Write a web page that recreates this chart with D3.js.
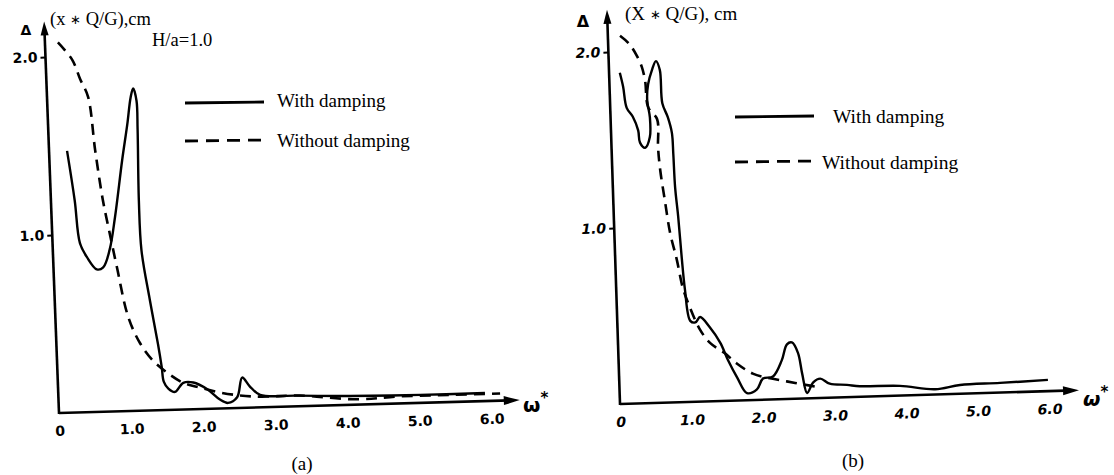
<!DOCTYPE html>
<html>
<head>
<meta charset="utf-8">
<script src="https://cdn.jsdelivr.net/npm/d3@7"></script>
<style>
  body { margin: 0; background: #fff; }
  .serif { font-family: "Liberation Serif", "Times New Roman", serif; }
  .tick text { font-family: "DejaVu Sans", sans-serif; font-weight: bold; fill: #000; }
</style>
</head>
<body>
<svg id="chart" width="1114" height="475"></svg>
<script>
// tick values shared by both panels
const xTicks = [0, 1, 2, 3, 4, 5, 6];
const yTicks = [1, 2];

// panel (a), H/a = 1.0  -- [omega*, delta]
const withDampingA = [
  [0.25, 1.47], [0.33, 1.19], [0.38, 0.95], [0.47, 0.87], [0.60, 0.80], [0.69, 0.81],
  [0.79, 0.91], [0.88, 1.09], [1.01, 1.41], [1.10, 1.61], [1.16, 1.76], [1.20, 1.81],
  [1.24, 1.74], [1.24, 1.58], [1.22, 1.18], [1.23, 0.90], [1.32, 0.62], [1.41, 0.37],
  [1.45, 0.24], [1.47, 0.16], [1.53, 0.12], [1.62, 0.10], [1.74, 0.15], [1.88, 0.15],
  [2.07, 0.11], [2.24, 0.05], [2.35, 0.03], [2.48, 0.06], [2.56, 0.17], [2.66, 0.12],
  [2.80, 0.07], [3.30, 0.06], [4.05, 0.05], [5.02, 0.045], [5.92, 0.045]
];
const withoutDampingA = [
  [0.18, 2.08], [0.37, 1.98], [0.47, 1.87], [0.57, 1.77], [0.64, 1.47], [0.72, 1.19],
  [0.79, 1.02], [0.88, 0.81], [1.01, 0.53], [1.16, 0.38], [1.33, 0.28], [1.52, 0.21],
  [1.74, 0.15], [1.97, 0.12], [2.24, 0.09], [2.52, 0.07], [2.80, 0.06], [3.35, 0.06],
  [4.14, 0.03], [4.74, 0.04], [5.43, 0.04], [6.13, 0.04]
];

// panel (b)
const withDampingB = [
  [0.15, 1.88], [0.19, 1.80], [0.23, 1.68], [0.31, 1.63], [0.38, 1.55], [0.40, 1.48],
  [0.47, 1.45], [0.54, 1.51], [0.55, 1.62], [0.52, 1.72], [0.54, 1.81], [0.60, 1.89],
  [0.66, 1.94], [0.71, 1.89], [0.73, 1.70], [0.80, 1.62], [0.85, 1.53], [0.86, 1.41],
  [0.87, 1.22], [0.90, 1.05], [0.93, 0.82], [0.96, 0.64], [1.02, 0.46], [1.09, 0.45],
  [1.16, 0.48], [1.29, 0.42], [1.43, 0.33], [1.53, 0.23], [1.65, 0.13], [1.78, 0.04],
  [1.92, 0.06], [2.01, 0.12], [2.15, 0.13], [2.28, 0.22], [2.36, 0.31], [2.43, 0.32],
  [2.51, 0.26], [2.56, 0.14], [2.62, 0.03], [2.71, 0.09], [2.81, 0.11], [2.94, 0.08],
  [3.18, 0.07], [3.36, 0.06], [3.92, 0.055], [4.41, 0.03], [4.76, 0.05], [5.32, 0.055],
  [5.99, 0.064]
];
const withoutDampingB = [
  [0.17, 2.09], [0.30, 2.04], [0.40, 1.97], [0.46, 1.91], [0.50, 1.83], [0.53, 1.68],
  [0.65, 1.61], [0.65, 1.45], [0.67, 1.32], [0.72, 1.15], [0.78, 0.96], [0.86, 0.81],
  [0.93, 0.65], [1.00, 0.56], [1.15, 0.41], [1.29, 0.33], [1.49, 0.27], [1.65, 0.21],
  [1.87, 0.15], [2.11, 0.12], [2.34, 0.10], [2.57, 0.08], [2.80, 0.06]
];

const panels = [
  {
    id: "a", ox: 59, oy: 413, bx: -0.028, cy: 0.038, ux: 72, uy: 178, xEnd: 6.4, yEnd: 2.2,
    withD: withDampingA, withoutD: withoutDampingA, italic: false,
    yLabel: ["(x ", "\u2217", " Q/G),cm"], yLabelPos: [50, 25], deltaPos: [26, 35], deltaSize: 14,
    note: "H/a=1.0", notePos: [152, 46],
    legend: { x0: 185, x1: 264, ySolid: 103, yDash: 141, tx: 277, tySolid: 107, tyDash: 147, size: 19 },
    omegaPos: [523, 412], panelLabel: [302, 470], fontSize: 18.5
  },
  {
    id: "b", ox: 620, oy: 404, bx: -0.03, cy: 0.033, ux: 71.5, uy: 176, xEnd: 6.42, yEnd: 2.24,
    withD: withDampingB, withoutD: withoutDampingB, italic: true,
    yLabel: ["(X ", "\u2217", " Q/G), cm"], yLabelPos: [625, 20], deltaPos: [583, 27], deltaSize: 16,
    note: null,
    legend: { x0: 735, x1: 814, ySolid: 117, yDash: 162, tx: 833, tySolid: 123, tyDash: 169, size: 19.5, txDash: 822 },
    omegaPos: [1083, 406], panelLabel: [853, 467], fontSize: 19
  }
];

const svg = d3.select("#chart");

panels.forEach((p) => {
  // hand drawn axes lean a little, so the plot group is sheared
  const g = svg.append("g")
    .attr("transform", `matrix(1,${p.bx},${p.cy},1,${p.ox},${p.oy})`);

  const x = d3.scaleLinear().domain([0, 6]).range([0, 6 * p.ux]);
  const y = d3.scaleLinear().domain([0, 2]).range([0, -2 * p.uy]);

  // axis lines + arrow heads
  g.append("line")
    .attr("x1", 0).attr("y1", 0).attr("x2", x(p.xEnd) - 6).attr("y2", 0)
    .attr("stroke", "#000").attr("stroke-width", 2.6);
  g.append("line")
    .attr("x1", 0).attr("y1", 1).attr("x2", 0).attr("y2", y(p.yEnd) + 6)
    .attr("stroke", "#000").attr("stroke-width", 2.6);
  g.append("path")
    .attr("d", `M${x(p.xEnd)},0 L${x(p.xEnd) - 16},-4.5 L${x(p.xEnd) - 16},4.5 Z`)
    .attr("fill", "#000");
  g.append("path")
    .attr("d", `M0,${y(p.yEnd)} L-4,${y(p.yEnd) + 14} L4,${y(p.yEnd) + 14} Z`)
    .attr("fill", "#000");

  // ticks
  const fmt = (d) => (d === 0 ? "0" : d.toFixed(1));
  const gx = g.append("g")
    .call(d3.axisBottom(x).tickValues(xTicks).tickSize(0).tickPadding(13).tickFormat(fmt));
  gx.select(".domain").remove();
  gx.selectAll("text").attr("font-size", 14).attr("font-style", p.italic ? "italic" : null);

  const gy = g.append("g")
    .call(d3.axisLeft(y).tickValues(yTicks).tickSize(5).tickPadding(3).tickFormat(fmt));
  gy.select(".domain").remove();
  gy.selectAll("line").attr("stroke", "#000").attr("stroke-width", 2);
  gy.selectAll("text").attr("font-size", 14).attr("font-style", p.italic ? "italic" : null);

  // curves
  const line = d3.line()
    .x((d) => x(d[0]))
    .y((d) => y(d[1]))
    .curve(d3.curveCatmullRom.alpha(0.5));

  g.append("path")
    .attr("d", line(p.withoutD))
    .attr("fill", "none").attr("stroke", "#000").attr("stroke-width", 2.6)
    .attr("stroke-dasharray", "11,7");
  g.append("path")
    .attr("d", line(p.withD))
    .attr("fill", "none").attr("stroke", "#000").attr("stroke-width", 2.4)
    .attr("stroke-linejoin", "round");

  // axis titles
  svg.append("text")
    .attr("x", p.deltaPos[0]).attr("y", p.deltaPos[1])
    .attr("text-anchor", "middle")
    .attr("font-family", "DejaVu Sans, sans-serif").attr("font-weight", "bold")
    .attr("font-size", p.deltaSize)
    .text("\u0394");
  const yl = svg.append("text")
    .attr("class", "serif")
    .attr("x", p.yLabelPos[0]).attr("y", p.yLabelPos[1])
    .attr("font-size", p.fontSize);
  yl.append("tspan").text(p.yLabel[0]);
  yl.append("tspan").attr("font-size", p.fontSize * 0.7).attr("dy", -1).text(p.yLabel[1]);
  yl.append("tspan").attr("dy", 1).text(p.yLabel[2]);
  if (p.note) {
    svg.append("text")
      .attr("class", "serif")
      .attr("x", p.notePos[0]).attr("y", p.notePos[1])
      .attr("font-size", p.fontSize)
      .text(p.note);
  }

  const om = svg.append("text")
    .attr("x", p.omegaPos[0]).attr("y", p.omegaPos[1])
    .attr("font-family", "DejaVu Sans, sans-serif").attr("font-weight", "bold")
    .attr("font-size", 20).attr("font-style", p.italic ? "italic" : null);
  om.append("tspan").text("\u03c9");
  om.append("tspan").attr("dy", -9).attr("font-size", 15).text("*");

  // legend
  const L = p.legend;
  svg.append("line")
    .attr("x1", L.x0).attr("x2", L.x1).attr("y1", L.ySolid).attr("y2", L.ySolid - 1)
    .attr("stroke", "#000").attr("stroke-width", 2.8);
  svg.append("line")
    .attr("x1", L.x0).attr("x2", L.x1).attr("y1", L.yDash).attr("y2", L.yDash - 1)
    .attr("stroke", "#000").attr("stroke-width", 2.8).attr("stroke-dasharray", "13,8");
  svg.append("text").attr("class", "serif")
    .attr("x", L.tx).attr("y", L.tySolid).attr("font-size", L.size)
    .text("With damping");
  svg.append("text").attr("class", "serif")
    .attr("x", L.txDash || L.tx).attr("y", L.tyDash).attr("font-size", L.size)
    .text("Without damping");

  svg.append("text").attr("class", "serif")
    .attr("x", p.panelLabel[0]).attr("y", p.panelLabel[1])
    .attr("text-anchor", "middle").attr("font-size", 19)
    .text(`(${p.id})`);
});
</script>
</body>
</html>
